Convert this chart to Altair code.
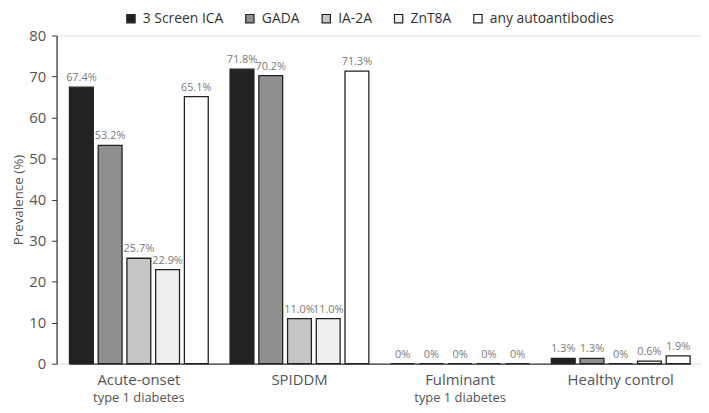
import altair as alt
import pandas as pd

groups = ["Acute-onset", "SPIDDM", "Fulminant", "Healthy control"]
subtitles = ["type 1 diabetes", "", "type 1 diabetes", ""]
series = ["3 Screen ICA", "GADA", "IA-2A", "ZnT8A", "any autoantibodies"]
colors = ["#222222", "#8f8f8f", "#c6c6c6", "#efefef", "#ffffff"]
values = {
    "Acute-onset": [67.4, 53.2, 25.7, 22.9, 65.1],
    "SPIDDM": [71.8, 70.2, 11.0, 11.0, 71.3],
    "Fulminant": [0, 0, 0, 0, 0],
    "Healthy control": [1.3, 1.3, 0, 0.6, 1.9],
}
labels = {
    "Acute-onset": ["67.4%", "53.2%", "25.7%", "22.9%", "65.1%"],
    "SPIDDM": ["71.8%", "70.2%", "11.0%", "11.0%", "71.3%"],
    "Fulminant": ["0%", "0%", "0%", "0%", "0%"],
    "Healthy control": ["1.3%", "1.3%", "0%", "0.6%", "1.9%"],
}

rows = []
for g in groups:
    for i, s in enumerate(series):
        rows.append({"group": g, "series": s, "value": values[g][i], "label": labels[g][i]})
df = pd.DataFrame(rows)

FONT = "Open Sans"
GRAY = "#555555"

xscale = alt.Scale(domain=groups, range=[13, 639], paddingInner=0.136, paddingOuter=0)
xoff = alt.XOffset("series:N", sort=series, scale=alt.Scale(domain=series, paddingInner=0.17))
yscale = alt.Scale(domain=[0, 80])

base = alt.Chart(df)

bars = base.mark_bar(stroke="#222222", strokeWidth=1.3).encode(
    x=alt.X("group:N", sort=groups, scale=xscale,
            axis=alt.Axis(title=None, labelAngle=0, labelFontSize=15, labelColor=GRAY,
                          labelFont=FONT, ticks=False, domainColor="#333333",
                          domainWidth=1.2, labelPadding=9, orient="bottom")),
    xOffset=xoff,
    y=alt.Y("value:Q", scale=yscale,
            axis=alt.Axis(title="Prevalence (%)", titleFont=FONT, titleFontSize=13.5,
                          titleFontWeight="normal", titleColor=GRAY, titlePadding=3,
                          values=list(range(0, 81, 10)), labelFontSize=15, labelFont=FONT,
                          labelColor=GRAY, grid=False, domainColor="#333333", domainWidth=1.2,
                          tickColor="#333333", tickSize=5, labelPadding=6)),
    color=alt.Color("series:N", sort=series, scale=alt.Scale(domain=series, range=colors),
                    legend=alt.Legend(title=None, orient="none", legendX=68, legendY=-24,
                                      direction="horizontal",
                                      symbolType="square", symbolStrokeColor="#222222",
                                      symbolStrokeWidth=1.2, symbolSize=70, labelFont=FONT,
                                      labelFontSize=14, labelColor="#333333", columnPadding=19,
                                      symbolOpacity=1, labelOffset=5)),
)

text = base.mark_text(dy=-4, baseline="bottom", fontSize=11, color="#7a7a7a", font=FONT).encode(
    x=alt.X("group:N", sort=groups, scale=xscale, axis=None),
    xOffset=xoff,
    y=alt.Y("value:Q", scale=yscale, title="Prevalence (%)"),
    text="label:N",
)

sub_expr = " || ".join(
    [f"datum.label == '{g}'" for g, s in zip(groups, subtitles) if s]
)
sub = base.mark_point(opacity=0).encode(
    x=alt.X("group:N", sort=groups, scale=xscale,
            axis=alt.Axis(title=None, orient="bottom", labelAngle=0, domain=False, ticks=False,
                          labelPadding=28, labelFontSize=13, labelFont=FONT, labelColor=GRAY,
                          labelExpr=f"({sub_expr}) ? '{subtitles[0]}' : ''")),
)

chart = alt.layer(bars, text, sub).resolve_axis(x="independent").properties(
    width=650, height=331,
    autosize=alt.AutoSizeParams(type="none"),
    padding={"left": 49, "top": 26, "right": 0, "bottom": 46},
).configure_view(stroke=None).configure(font=FONT)

chart.save("out.html", embed_options={"renderer": "svg", "actions": False})
